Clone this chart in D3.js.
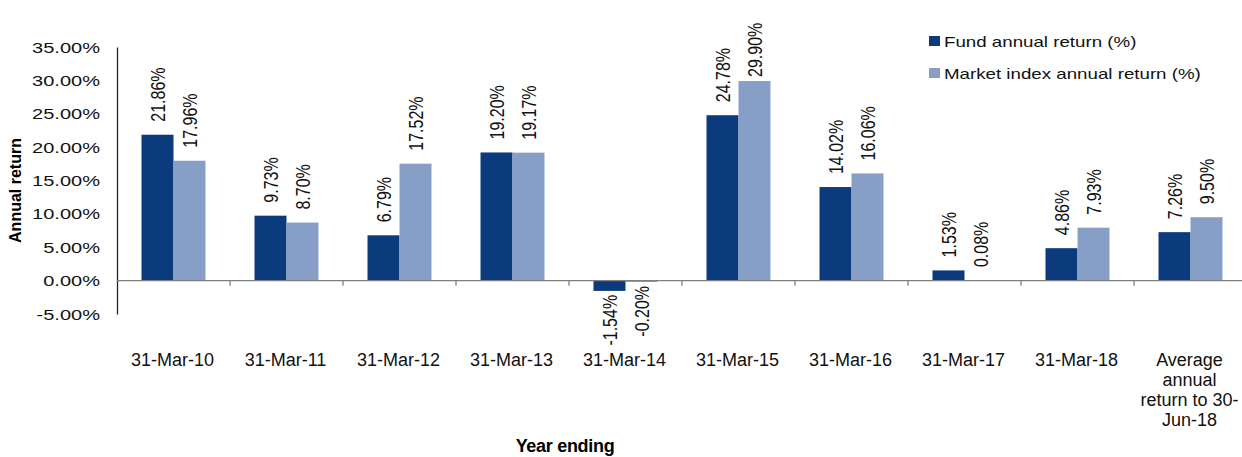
<!DOCTYPE html>
<html>
<head>
<meta charset="utf-8">
<script src="https://cdn.jsdelivr.net/npm/d3@7"></script>
<style>
  html, body { margin: 0; padding: 0; background: #fff; }
  svg { display: block; font-family: "Liberation Sans", Arial, sans-serif; }
</style>
</head>
<body>
<div id="chart"></div>
<script>
const categories = [
  "31-Mar-10", "31-Mar-11", "31-Mar-12", "31-Mar-13", "31-Mar-14",
  "31-Mar-15", "31-Mar-16", "31-Mar-17", "31-Mar-18",
  "Average annual return to 30-Jun-18"
];
const seriesNames = ["Fund annual return (%)", "Market index annual return (%)"];
const fundReturns = [21.86, 9.73, 6.79, 19.20, -1.54, 24.78, 14.02, 1.53, 4.86, 7.26];
const marketReturns = [17.96, 8.70, 17.52, 19.17, -0.20, 29.90, 16.06, 0.08, 7.93, 9.50];
const yTicks = [-5, 0, 5, 10, 15, 20, 25, 30, 35];
const lastCategoryLines = ["Average", "annual", "return to 30-", "Jun-18"];

const width = 1242, height = 457;
const colors = ["#0b3a7d", "#879fc6"];
const stretch = 1.3; // glyphs in the reference are wider than they are tall

const svg = d3.select("#chart").append("svg")
  .attr("width", width).attr("height", height);

const x0 = d3.scaleBand().domain(categories).range([117, 1247]);
const barW = 32;
const x1 = d3.scaleBand().domain(seriesNames)
  .range([(x0.bandwidth() - 2 * barW) / 2, (x0.bandwidth() + 2 * barW) / 2]);
const y = d3.scaleLinear().domain([-5, 35]).range([314, 47]);

const rows = categories.map((c, i) => ({
  category: c,
  values: [fundReturns[i], marketReturns[i]]
}));

// y axis
const yAxis = svg.append("g").attr("transform", "translate(117,0)")
  .call(d3.axisLeft(y).tickValues(yTicks).tickSize(0).tickFormat(""));
yAxis.select(".domain").attr("stroke", "#222").attr("stroke-width", 1.3);

svg.append("g").selectAll("text").data(yTicks).join("text")
  .attr("transform", d => `translate(100,${y(d)}) scale(${stretch},1)`)
  .attr("dy", "0.36em")
  .attr("text-anchor", "end")
  .attr("font-size", 15.4)
  .attr("fill", "#111")
  .text(d => d.toFixed(2) + "%");

// bars
const group = svg.append("g").selectAll("g").data(rows).join("g")
  .attr("transform", d => `translate(${x0(d.category)},0)`);

group.selectAll("rect")
  .data(d => d.values.map((v, j) => ({ v, s: seriesNames[j], j })))
  .join("rect")
  .attr("x", d => x1(d.s))
  .attr("width", x1.bandwidth())
  .attr("y", d => y(Math.max(0, d.v)))
  .attr("height", d => Math.abs(y(d.v) - y(0)))
  .attr("fill", d => colors[d.j]);

// data labels
group.selectAll("text.lbl")
  .data(d => d.values.map((v, j) => ({ v, s: seriesNames[j], j })))
  .join("text")
  .attr("class", "lbl")
  .attr("font-size", 16)
  .attr("fill", "#111")
  .attr("dy", "0.36em")
  .attr("text-anchor", d => d.v >= 0 ? "start" : "end")
  .attr("transform", d => {
    const cx = x1(d.s) + x1.bandwidth() / 2;
    let ly = d.v >= 0 ? y(d.v) - 13 : y(d.v) + 4;
    if (d.v >= 0) ly = Math.max(ly, 77);
    return `translate(${cx},${ly}) scale(${stretch},1) rotate(-90)`;
  })
  .text(d => d.v.toFixed(2) + "%");

// x axis at zero
const xAxis = svg.append("g").attr("transform", `translate(0,${y(0)})`);
xAxis.append("line")
  .attr("x1", 117).attr("x2", 1247)
  .attr("stroke", "#7f7f7f").attr("stroke-width", 1.3);
xAxis.selectAll("line.tick").data(categories.slice(1)).join("line")
  .attr("class", "tick")
  .attr("x1", d => x0(d)).attr("x2", d => x0(d))
  .attr("y1", 0).attr("y2", 5)
  .attr("stroke", "#7f7f7f").attr("stroke-width", 1.3);

// category labels
svg.append("g").selectAll("text").data(categories).join("text")
  .attr("x", d => x0(d) + x0.bandwidth() / 2 - 1)
  .attr("y", 366)
  .attr("text-anchor", "middle")
  .attr("font-size", 18)
  .attr("fill", "#111")
  .each(function (d, i) {
    const lines = i === categories.length - 1 ? lastCategoryLines : [d];
    d3.select(this).selectAll("tspan").data(lines).join("tspan")
      .attr("x", d3.select(this).attr("x"))
      .attr("dy", (l, k) => k === 0 ? 0 : 20)
      .text(l => l);
  });

// axis titles
svg.append("text")
  .attr("x", 565).attr("y", 452)
  .attr("text-anchor", "middle")
  .attr("font-size", 18).attr("font-weight", "bold")
  .attr("letter-spacing", -0.3)
  .attr("fill", "#000")
  .text("Year ending");

svg.append("text")
  .attr("transform", "translate(21,190.5) rotate(-90)")
  .attr("text-anchor", "middle")
  .attr("font-size", 16).attr("font-weight", "bold")
  .attr("fill", "#000")
  .text("Annual return");

// legend
const legend = svg.append("g").selectAll("g").data(seriesNames).join("g")
  .attr("transform", (d, i) => `translate(929,${36 + i * 32})`);
legend.append("rect")
  .attr("width", 11).attr("height", 10)
  .attr("fill", (d, i) => colors[i]);
legend.append("text")
  .attr("transform", `translate(15,11) scale(${stretch},1)`)
  .attr("font-size", 14.4)
  .attr("fill", "#111")
  .text(d => d);
</script>
</body>
</html>
